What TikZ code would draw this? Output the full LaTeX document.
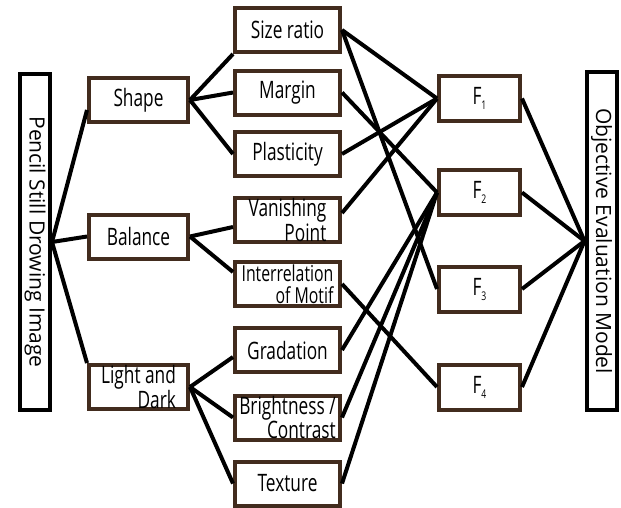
\documentclass[tikz,border=0pt]{standalone}
\usepackage{fontspec}
\setmainfont{Open Sans}[FakeStretch=0.72]
\newfontfamily\widefont{Open Sans}
\definecolor{boxbrown}{RGB}{66,44,30}
\newcommand{\drawlink}{\draw[line width=4pt]}
\newcommand{\fsub}[1]{F\raisebox{-5pt}{\fontsize{12}{12}\selectfont #1}}
\tikzset{
  itembox/.style={draw=boxbrown, line width=4pt, fill=white, minimum width=99pt, minimum height=44pt, inner sep=0pt, align=right, font=\fontsize{24}{19}\selectfont},
  midbox/.style={itembox, minimum width=105pt},
  fbox/.style={itembox, minimum width=81pt, minimum height=45pt},
  sidebox/.style={draw=black, line width=4pt, fill=white, rotate=-90, minimum height=30pt, inner sep=0pt, font=\widefont\fontsize{21}{21}\selectfont}
}

\begin{document}
\begin{tikzpicture}[x=1pt,y=-1pt]
\useasboundingbox (0,0) rectangle (621,507);
\node[sidebox, minimum width=336pt] (image) at (35,242) {Pencil Still Drowing Image};
\node[itembox] (shape) at (138.5,100) {Shape};
\node[itembox] (balance) at (138.5,236.5) {Balance};
\node[itembox] (light) at (138.5,387) {Light and\\Dark};
\node[midbox] (size) at (287.5,30) {Size ratio};
\node[midbox] (margin) at (287.5,92.5) {Margin};
\node[midbox] (plast) at (287.5,154) {Plasticity};
\node[midbox] (vanish) at (287.5,220) {Vanishing\\Point};
\node[midbox, font=\fontsize{22}{22}\selectfont] (inter) at (287.5,284) {Interrelation\\of Motif};
\node[midbox] (grad) at (287.5,350) {Gradation};
\node[midbox] (bright) at (287.5,417.5) {Brightness /\\Contrast};
\node[midbox] (texture) at (287.5,483.5) {Texture};
\node[fbox] (f1) at (479.5,98.5) {\fsub{1}};
\node[fbox] (f2) at (479.5,192.5) {\fsub{2}};
\node[fbox] (f3) at (479.5,289) {\fsub{3}};
\node[fbox] (f4) at (479.5,387) {\fsub{4}};
\node[sidebox, minimum width=338pt] (model) at (601.5,241) {Objective Evaluation Model};
\drawlink (image.north) -- ([yshift=-10pt]shape.west);
\drawlink (image.north) -- (balance.west);
\drawlink (image.north) -- (light.north west);
\drawlink (shape.east) -- (size.south west);
\drawlink (shape.east) -- (margin.west);
\drawlink (shape.east) -- (plast.west);
\drawlink (balance.east) -- ([yshift=-7pt]vanish.west);
\drawlink (balance.east) -- ([yshift=12pt]inter.west);
\drawlink (light.east) -- ([yshift=-7pt]grad.west);
\drawlink (light.east) -- (bright.west);
\drawlink (light.east) -- (texture.west);
\drawlink (size.east) -- (f1.west);
\drawlink (size.east) -- (f3.west);
\drawlink (margin.east) -- (f2.west);
\drawlink (plast.east) -- (f1.west);
\drawlink ([yshift=7pt]vanish.east) -- (f1.west);
\drawlink (inter.east) -- (f4.west);
\drawlink (grad.east) -- (f2.west);
\drawlink (bright.east) -- (f2.west);
\drawlink (texture.east) -- (f2.west);
\drawlink (f1.east) -- (model.south);
\drawlink (f2.east) -- (model.south);
\drawlink (f3.east) -- (model.south);
\drawlink (f4.east) -- (model.south);
\end{tikzpicture}
\end{document}
